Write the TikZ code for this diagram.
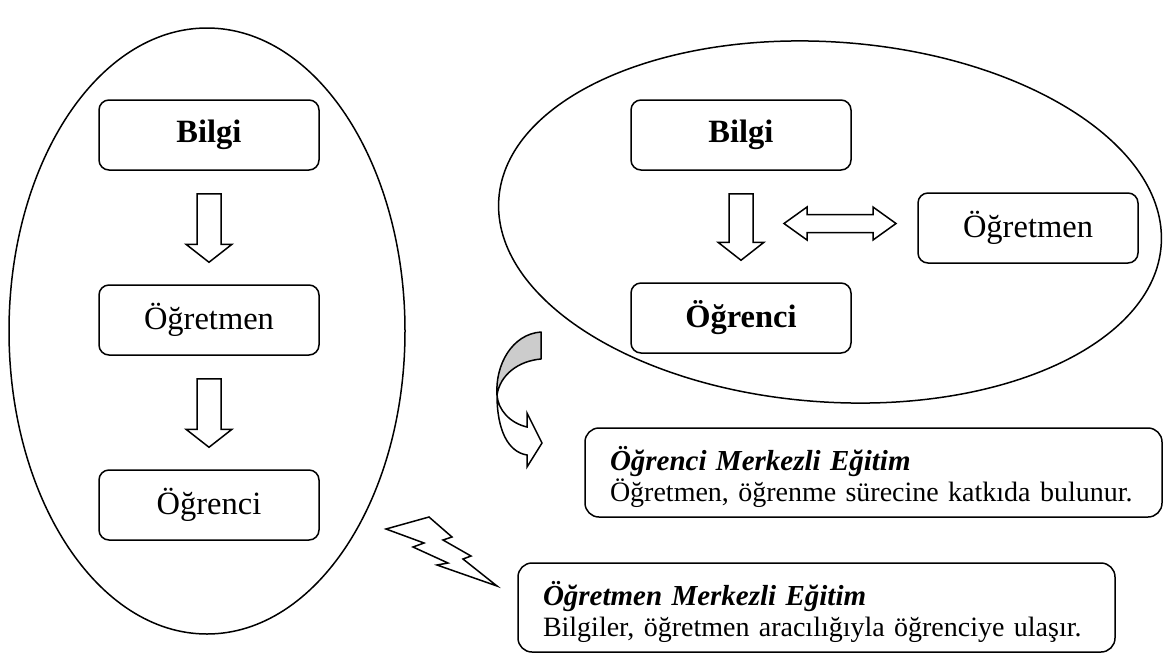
\documentclass[tikz,border=0pt]{standalone}
\usepackage{fontspec}
\setmainfont{Liberation Serif}
\usetikzlibrary{calc}
\newcommand\dnarrow[2]{\draw[blk] let \p1=(#1.south), \p2=(#2.north) in
 (\x1-12pt,\y1-23pt) -- (\x1+12pt,\y1-23pt) -- (\x1+12pt,\y2+40pt) -- (\x1+23pt,\y2+40pt)
 -- (\x1,\y2+22pt) -- (\x1-23pt,\y2+40pt) -- (\x1-12pt,\y2+40pt) -- cycle;}
\begin{document}
\begin{tikzpicture}[x=1pt,y=-1pt,line width=1.5pt,
  lbl/.style={draw, rounded corners=10pt, minimum width=220pt, minimum height=70pt,
    font=\fontsize{32.5}{38}\selectfont, fill=white, inner sep=0pt},
  desc/.style={draw, rounded corners=14pt, align=left, fill=white,
    font=\fontsize{28}{31}\selectfont, inner xsep=25pt, inner ysep=0pt},
  ttl/.style={font=\fontsize{29}{31}\selectfont\bfseries\itshape},
  blk/.style={draw, fill=white, line join=miter}]
\useasboundingbox (0,0) rectangle (1165,657);
% ellipses
\draw (207,331) ellipse [x radius=198, y radius=303];
\draw[rotate around={-4:(830,222)}] (830,222) ellipse [x radius=332, y radius=180];
% left column
\node[lbl] (lb) at (209,135) {\bfseries Bilgi};
\node[lbl] (lo) at (209,320) {Öğretmen};
\node[lbl] (lc) at (209,505) {Öğrenci};
\dnarrow{lb}{lo}
\dnarrow{lo}{lc}
% right group
\node[lbl] (rb) at (741,135) {\bfseries Bilgi};
\node[lbl] (rc) at (741,318) {\bfseries Öğrenci};
\node[lbl] (ro) at (1028,228) {Öğretmen};
\dnarrow{rb}{rc}
\draw[blk] (784,223.5) -- (807,207) -- (807,214.5) -- (873,214.5) -- (873,207) -- (896,223.5)
  -- (873,240) -- (873,232.5) -- (807,232.5) -- (807,240) -- cycle;
% description boxes
\node[desc, text width=527pt, minimum height=89pt] (d1) at (873.5,472.5)
  {\rule{0pt}{34pt}{\fontsize{29}{31}\selectfont\bfseries\itshape Öğrenci Merkezli Eğitim}\\Öğretmen, öğrenme sürecine katkıda bulunur.};
\node[desc, text width=547pt, minimum height=89pt] (d2) at (816.5,607.5)
  {\rule{0pt}{34pt}{\fontsize{29}{31}\selectfont\bfseries\itshape Öğretmen Merkezli Eğitim}\\Bilgiler, öğretmen aracılığıyla öğrenciye ulaşır.};
% curved arrow
\draw[fill=gray!40, line join=round] (541,332) -- (541,359) .. controls (518,361) and (500,375) .. (497,395)
  .. controls (495,365) and (512,334) .. (541,332) -- cycle;
\draw[blk] (497,395) .. controls (497,430) and (508,452) .. (527,455) -- (527,467) -- (542,443)
  -- (527,413) -- (527,427) .. controls (510,423) and (498,410) .. (497,395) -- cycle;
% lightning
\draw[blk] (386,529) -- (429,517) -- (452,537) -- (443,540) -- (471,556) -- (463,559) -- (497,586)
  -- (437,565) -- (448,563) -- (413,547) -- (424,543) -- cycle;
\end{tikzpicture}
\end{document}
